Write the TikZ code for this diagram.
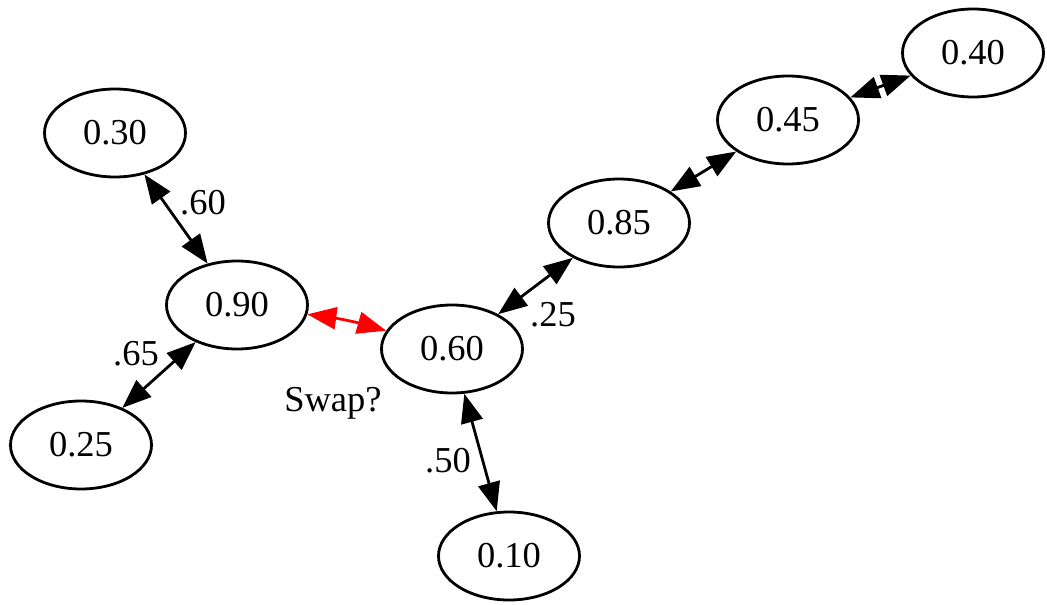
\documentclass[tikz,border=0pt]{standalone}
\usepackage{fontspec}
\setmainfont{Liberation Serif}
\usetikzlibrary{arrows.meta,shapes.geometric}
\begin{document}
\begin{tikzpicture}[x=1pt,y=-1pt,
  val/.style={ellipse, draw, line width=2.8pt, minimum width=141pt, minimum height=88pt, inner sep=0pt, font=\fontsize{36.5}{40}\selectfont},
  lbl/.style={font=\fontsize{36.5}{40}\selectfont, inner sep=0pt},
  link/.style={line width=2.8pt, {Triangle[length=29pt,width=22pt]}-{Triangle[length=29pt,width=22pt]}},
  swaplink/.style={link, red},
]
\useasboundingbox (0,0) rectangle (1047,605);
\node[val] (n30) at (115,133) {0.30};
\node[val] (n90) at (237,305) {0.90};
\node[val] (n25) at (81,445) {0.25};
\node[val] (n60) at (452,349) {0.60};
\node[val] (n10) at (509,556) {0.10};
\node[val] (n85) at (619,223) {0.85};
\node[val] (n45) at (788,120) {0.45};
\node[val] (n40) at (973,53) {0.40};

\draw[link] (n30) -- (n90);
\draw[link] (n90) -- (n25);
\draw[swaplink] (n90) to[bend left=4] (n60);
\draw[link] (n60) -- (n10);
\draw[link] (n60) -- (n85);
\draw[link] (n85) -- (n45);
\draw[link] (n45) -- (n40);

\node[lbl] (l60) at (203,203) {.60};
\node[lbl] (l65) at (136,354) {.65};
\node[lbl] (l25) at (553,315) {.25};
\node[lbl] (l50) at (448,461) {.50};
\node[lbl] (lswap) at (333,403) {Swap?};
\end{tikzpicture}
\end{document}
